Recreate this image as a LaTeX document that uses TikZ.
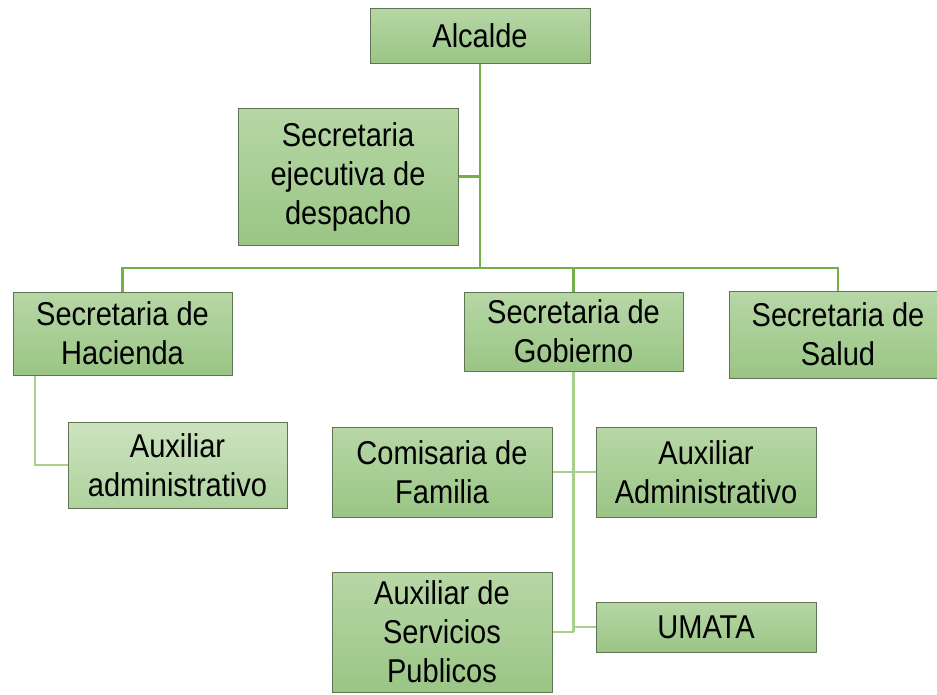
\documentclass[tikz,border=0pt]{standalone}
\usepackage{fontspec}
\setmainfont[FakeStretch=0.88]{Liberation Sans}
\usetikzlibrary{backgrounds}
\definecolor{boxtop}{HTML}{B7D7A6}
\definecolor{boxbot}{HTML}{9AC585}
\definecolor{lighttop}{HTML}{CCE3C0}
\definecolor{lightbot}{HTML}{AFD29E}
\definecolor{boxline}{HTML}{5F7556}
\definecolor{mainline}{HTML}{74B04A}
\definecolor{subline}{HTML}{A8D08D}
\tikzset{
  orgbox/.style={draw=boxline, line width=0.9pt, top color=boxtop, bottom color=boxbot,
    align=center, inner sep=0pt, font=\fontsize{33}{39}\selectfont},
  lightbox/.style={orgbox, top color=lighttop, bottom color=lightbot},
  mainconn/.style={draw=mainline, line width=2.6pt},
  subconn/.style={draw=subline, line width=2.4pt}
}
\begin{document}
\begin{tikzpicture}[x=1pt,y=-1pt]
\useasboundingbox (0,0) rectangle (937,694);
\clip (0,0) rectangle (937,694);
\coordinate (bar) at (480,268);
\node[orgbox, minimum width=220pt, minimum height=55pt] (alc) at (480,35.5) {Alcalde};
\node[orgbox, minimum width=220pt, minimum height=137pt] (sec) at (348,176.5) {Secretaria\\ejecutiva de\\despacho};
\node[orgbox, minimum width=219pt, minimum height=83pt] (hac) at (122.5,333.5) {Secretaria de\\Hacienda};
\node[orgbox, minimum width=219pt, minimum height=79pt] (gob) at (573.5,331.5) {Secretaria de\\Gobierno};
\node[orgbox, minimum width=218pt, minimum height=87pt] (sal) at (838,334.5) {Secretaria de\\Salud};
\node[lightbox, minimum width=219pt, minimum height=86pt] (aux1) at (177.5,465) {Auxiliar\\administrativo};
\node[orgbox, minimum width=220pt, minimum height=90pt] (com) at (442,472) {Comisaria de\\Familia};
\node[orgbox, minimum width=220pt, minimum height=90pt] (auxA) at (706,472) {Auxiliar\\Administrativo};
\node[orgbox, minimum width=220pt, minimum height=120pt] (serv) at (442,632) {Auxiliar de\\Servicios\\Publicos};
\node[orgbox, minimum width=220pt, minimum height=50pt] (umata) at (706,627) {UMATA};
\begin{scope}[on background layer]
\fill[white] (0,0) rectangle (937,694);
\draw[mainconn] (alc.south) -- (bar);
\draw[mainconn] (sec.east) -- (sec.east -| alc.south);
\draw[mainconn] (hac.north) |- (bar) -| (sal.north);
\draw[mainconn] (gob.north) -- (gob.north |- bar);
\draw[subconn] ([xshift=-87.5pt]hac.south) |- (aux1.west);
\draw[subconn] (gob.south) -- (gob.south |- serv.east);
\draw[subconn] (com.east) -- (auxA.west);
\draw[subconn] (serv.east) -- (serv.east -| gob.south);
\draw[subconn] (umata.west) -- (umata.west -| gob.south);
\end{scope}
\end{tikzpicture}
\end{document}
